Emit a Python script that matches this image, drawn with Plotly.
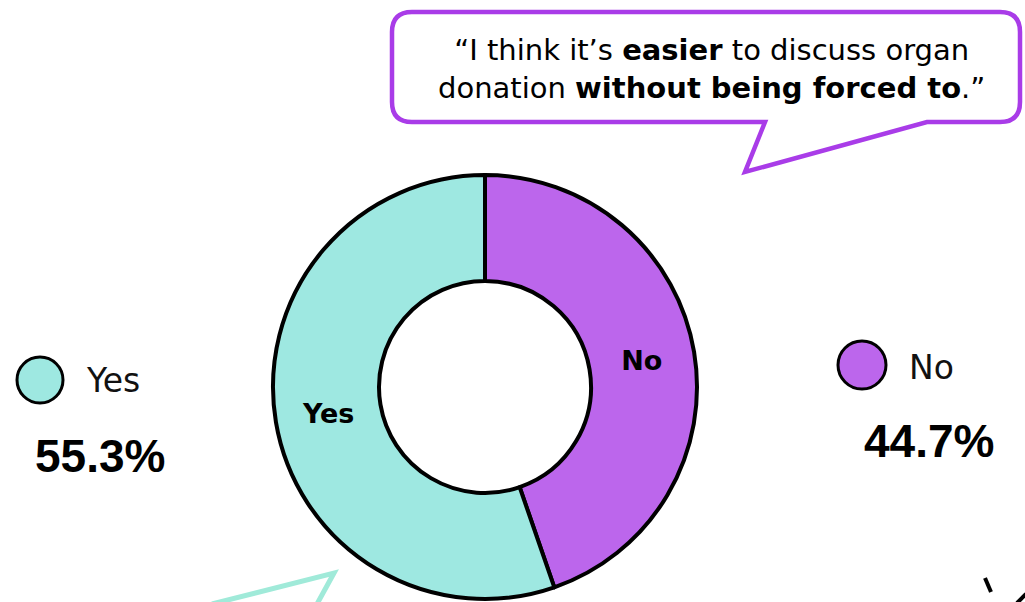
import plotly.graph_objects as go

W, H = 1025, 602

# ---- data ----
labels = ["No", "Yes"]
values = [44.7, 55.3]
pct_text = ["44.7%", "55.3%"]
quote_line1 = "“I think it’s <b>easier</b> to discuss organ"
quote_line2 = "donation <b>without being forced to</b>.”"

# ---- styles ----
TEAL = "#9EE8E1"
PURPLE = "#BC66EC"
BUBBLE = "#A93CE8"
TEAL_LINE = "#A0EAD9"
colors = [PURPLE, TEAL]
FONT = "'DejaVu Sans', sans-serif"


def px(x):
    return x / W


def py(y):
    return 1 - y / H


fig = go.Figure()

cx, cy, R = 485, 387, 212
fig.add_trace(go.Pie(
    labels=labels,
    values=values,
    sort=False,
    direction="clockwise",
    rotation=0,
    hole=0.5,
    marker=dict(colors=colors, line=dict(color="black", width=4)),
    textinfo="label",
    textposition="inside",
    insidetextorientation="horizontal",
    textfont=dict(family=FONT, size=27, color="black", weight="bold"),
    domain=dict(x=[px(cx - R), px(cx + R)], y=[py(cy + R), py(cy - R)]),
    showlegend=False,
    hoverinfo="label+percent",
))

shapes = []

# speech bubble (top right)
r = 20
L, T, Rr, B = 392, 12, 1020, 122
d = (
    f"M {px(L + r)} {py(T)} L {px(Rr - r)} {py(T)} "
    f"Q {px(Rr)} {py(T)} {px(Rr)} {py(T + r)} "
    f"L {px(Rr)} {py(B - r)} Q {px(Rr)} {py(B)} {px(Rr - r)} {py(B)} "
    f"L {px(927)} {py(B)} L {px(745)} {py(172)} L {px(765)} {py(B)} "
    f"L {px(L + r)} {py(B)} Q {px(L)} {py(B)} {px(L)} {py(B - r)} "
    f"L {px(L)} {py(T + r)} Q {px(L)} {py(T)} {px(L + r)} {py(T)} Z"
)
shapes.append(dict(type="path", xref="paper", yref="paper", path=d,
                   line=dict(color=BUBBLE, width=4.5), fillcolor="rgba(255,255,255,0)", layer="above"))

# partial teal bubble (bottom left)
d2 = f"M {px(212)} {py(604)} L {px(334)} {py(573)} L {px(317)} {py(604)}"
shapes.append(dict(type="path", xref="paper", yref="paper", path=d2,
                   line=dict(color=TEAL_LINE, width=5)))

# partial black marks (bottom right)
shapes.append(dict(type="line", xref="paper", yref="paper",
                   x0=px(985), y0=py(578), x1=px(991), y1=py(592),
                   line=dict(color="black", width=4)))
shapes.append(dict(type="line", xref="paper", yref="paper",
                   x0=px(1017), y0=py(603), x1=px(1026), y1=py(594),
                   line=dict(color="black", width=4)))

# legend circles
legend_pos = {"Yes": (40, 380, 23), "No": (862, 365, 24)}
for lab, col in zip(labels, colors):
    x, y, rr = legend_pos[lab]
    shapes.append(dict(type="circle", xref="paper", yref="paper",
                       x0=px(x - rr), x1=px(x + rr), y0=py(y + rr), y1=py(y - rr),
                       fillcolor=col, line=dict(color="black", width=3)))

annotations = []
annotations.append(dict(
    x=px(711), y=py(69), xref="paper", yref="paper", showarrow=False,
    text=quote_line1 + "<br>" + quote_line2, align="center",
    font=dict(family=FONT, size=29, color="black"),
    xanchor="center", yanchor="middle",
))

label_pos = {"Yes": (84, 380), "No": (907, 367)}
pct_pos = {"Yes": (100, 456), "No": (929, 441)}
for lab, pt in zip(labels, pct_text):
    lx, ly = label_pos[lab]
    annotations.append(dict(
        x=px(lx), y=py(ly), xref="paper", yref="paper", showarrow=False,
        text=lab, xanchor="left", yanchor="middle",
        font=dict(family=FONT, size=33, color="#111111"),
    ))
    qx, qy = pct_pos[lab]
    annotations.append(dict(
        x=px(qx), y=py(qy), xref="paper", yref="paper", showarrow=False,
        text=f"<b>{pt}</b>", xanchor="center", yanchor="middle",
        font=dict(family="'Liberation Sans', Arial, sans-serif", size=46, color="black"),
    ))

fig.update_layout(
    width=W, height=H,
    margin=dict(l=0, r=0, t=0, b=0),
    paper_bgcolor="white",
    plot_bgcolor="white",
    shapes=shapes,
    annotations=annotations,
    showlegend=False,
)

fig.write_html("out.html", config={"displayModeBar": False},
               post_script="document.body.style.margin='0';document.body.style.overflow='hidden';")
